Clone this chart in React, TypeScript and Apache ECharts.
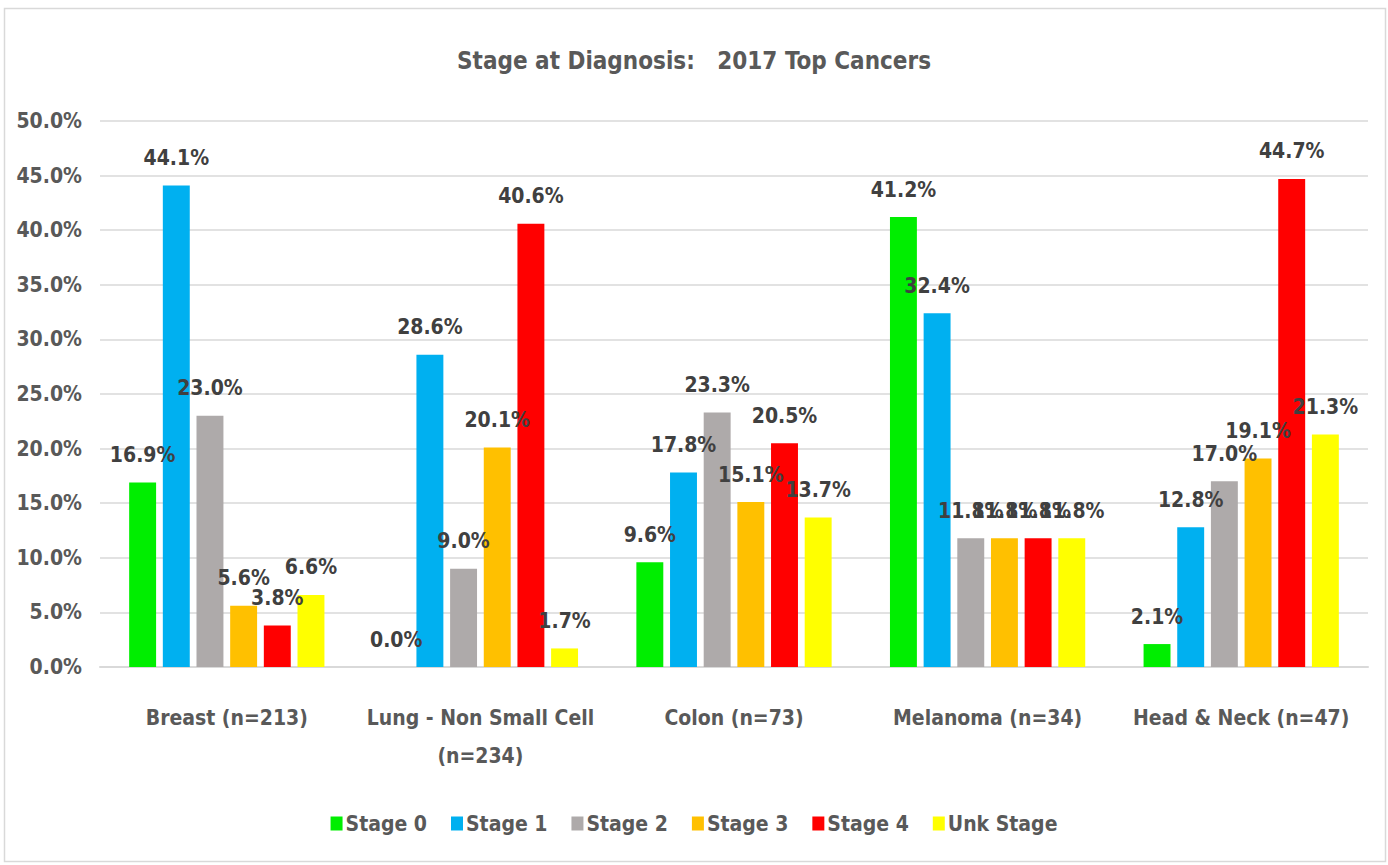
import React, { useEffect, useRef } from "react";
import * as echarts from "echarts";

const categories = [
  "Breast (n=213)",
  "Lung - Non Small Cell\n(n=234)",
  "Colon (n=73)",
  "Melanoma (n=34)",
  "Head & Neck (n=47)",
];
const seriesNames = ["Stage 0", "Stage 1", "Stage 2", "Stage 3", "Stage 4", "Unk Stage"];
const stage0 = [16.9, 0.0, 9.6, 41.2, 2.1];
const stage1 = [44.1, 28.6, 17.8, 32.4, 12.8];
const stage2 = [23.0, 9.0, 23.3, 11.8, 17.0];
const stage3 = [5.6, 20.1, 15.1, 11.8, 19.1];
const stage4 = [3.8, 40.6, 20.5, 11.8, 44.7];
const unkStage = [6.6, 1.7, 13.7, 11.8, 21.3];
const seriesValues = [stage0, stage1, stage2, stage3, stage4, unkStage];
const colors = ["#00ee00", "#00b0f0", "#aeaaaa", "#ffc000", "#ff0000", "#ffff00"];
const yTicks = { min: 0, max: 50, interval: 5 };

const FONT = "'Liberation Sans Narrow', 'DejaVu Sans Condensed', 'Arial Narrow', sans-serif";

export default function App() {
  const ref = useRef<HTMLDivElement>(null);
  useEffect(() => {
    const chart = echarts.init(ref.current!, null, { renderer: "svg" });
    chart.setOption({
      animation: false,
      backgroundColor: "#ffffff",
      textStyle: { fontFamily: FONT },
      title: {
        text: "Stage at Diagnosis:   2017 Top Cancers",
        left: "center",
        top: 44,
        textStyle: { fontFamily: FONT, fontSize: 24, fontWeight: "bold", color: "#595959" },
      },
      graphic: [
        {
          type: "rect",
          shape: { x: 4.5, y: 8.5, width: 1381, height: 853 },
          style: { fill: "none", stroke: "#d9d9d9", lineWidth: 1.5 },
          silent: true,
          z: -1,
        },
      ],
      legend: {
        data: seriesNames,
        bottom: 26,
        left: "center",
        itemWidth: 12,
        itemHeight: 14,
        itemGap: 24,
        icon: "rect",
        textStyle: { fontFamily: FONT, fontSize: 21, fontWeight: "bold", color: "#595959", padding: [0, 0, 0, -2] },
      },
      grid: { left: 100, right: 20, top: 121, bottom: 198, containLabel: false },
      xAxis: {
        type: "category",
        data: categories,
        axisLine: { lineStyle: { color: "#d9d9d9", width: 2 } },
        axisTick: { show: false },
        axisLabel: {
          fontFamily: FONT,
          fontSize: 21,
          fontWeight: "bold",
          color: "#595959",
          margin: 32,
          lineHeight: 38,
          interval: 0,
        },
      },
      yAxis: {
        type: "value",
        min: yTicks.min,
        max: yTicks.max,
        interval: yTicks.interval,
        axisLine: { show: false },
        axisTick: { show: false },
        splitLine: { lineStyle: { color: "#d9d9d9", width: 1.5 } },
        axisLabel: {
          fontFamily: FONT,
          fontSize: 21,
          fontWeight: "bold",
          color: "#595959",
          margin: 18,
          formatter: (v: number) => v.toFixed(1) + "%",
        },
      },
      series: seriesNames.map((name, i) => ({
        name,
        type: "bar",
        data: seriesValues[i],
        barGap: "25%",
        barCategoryGap: "23%",
        itemStyle: { color: colors[i] },
        label: {
          show: true,
          position: "top",
          distance: 17,
          fontFamily: FONT,
          fontSize: 21,
          fontWeight: "bold",
          color: "#404040",
          formatter: (p: any) => Number(p.value).toFixed(1) + "%",
        },
      })),
    });
    return () => chart.dispose();
  }, []);
  return (
    <div
      ref={ref}
      style={{ position: "absolute", left: 0, top: 0, width: 1388, height: 865 }}
    />
  );
}
